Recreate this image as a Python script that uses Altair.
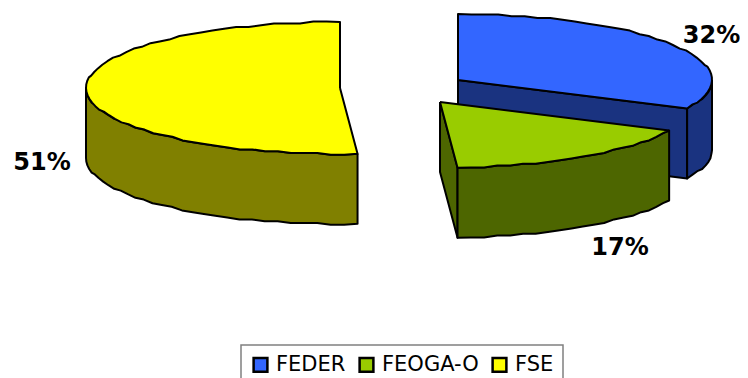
import numpy as np
import pandas as pd
import altair as alt

categories = ["FEDER", "FEOGA-O", "FSE"]
shares = [32.1, 16.8, 51.1]
share_labels = ["32%", "17%", "51%"]
top_colors = ["#3366FF", "#99CC00", "#FFFF00"]
side_colors = ["#1A3380", "#4D6600", "#808000"]
centers = [(458, 80), (440, 102), (340, 88)]
label_pos = [(711.5, 36), (620, 248), (42, 163)]
RX, RY, DEPTH = 254, 66, 70
GRID = 1.8


def pt(c, deg):
    a = np.radians(deg)
    return (c[0] + RX * np.sin(a), c[1] - RY * np.cos(a))


def arc(c, a0, a1):
    n = max(2, int(abs(a1 - a0) / 3.0) + 1)
    out = []
    for i, d in enumerate(np.linspace(a0, a1, n)):
        x, y = pt(c, d)
        if 0 < i < n - 1:
            y = round(y / GRID) * GRID
        out.append((x, y))
    return out


def shift(pts):
    return [(x, y + DEPTH) for x, y in pts]


spans = []
acc = 0.0
for s in shares:
    spans.append((acc, acc + s * 3.6))
    acc += s * 3.6

faces = []
# FSE outer wall
c = centers[2]
a0, a1 = spans[2]
rim = arc(c, a0, 270)
faces.append((rim + shift(rim)[::-1], side_colors[2]))
# FEDER cut face and outer wall
c = centers[0]
a0, a1 = spans[0]
faces.append(([c, pt(c, a1), shift([pt(c, a1)])[0], shift([c])[0]], side_colors[0]))
rim = arc(c, 90, a1)
faces.append((rim + shift(rim)[::-1], side_colors[0]))
# FEOGA cut face and outer wall
c = centers[1]
a0, a1 = spans[1]
faces.append(([c, pt(c, a1), shift([pt(c, a1)])[0], shift([c])[0]], side_colors[1]))
rim = arc(c, a0, a1)
faces.append((rim + shift(rim)[::-1], side_colors[1]))
# top faces
for i in range(3):
    c = centers[i]
    a0, a1 = spans[i]
    faces.append(([c] + arc(c, a0, a1), top_colors[i]))

x_scale = alt.Scale(domain=[8, 740], range=[0, 732], nice=False, zero=False)
y_scale = alt.Scale(domain=[8, 378], range=[0, 370], nice=False, zero=False)
fill_scale = alt.Scale(domain=categories, range=top_colors)

layers = []
for pts, col in faces:
    pts = list(pts) + [pts[0]]
    df = pd.DataFrame({"x": [p[0] for p in pts], "y": [p[1] for p in pts], "o": range(len(pts))})
    layers.append(
        alt.Chart(df).mark_line(fill=col, stroke="black", strokeWidth=2, strokeJoin="round").encode(
            x=alt.X("x:Q", scale=x_scale, axis=None),
            y=alt.Y("y:Q", scale=y_scale, axis=None),
            order=alt.Order("o:Q"),
        )
    )

legend_df = pd.DataFrame({"cat": categories, "x": [c[0] for c in centers], "y": [c[1] for c in centers]})
legend_layer = alt.Chart(legend_df).mark_square(size=1, opacity=0, filled=True).encode(
    x=alt.X("x:Q", scale=x_scale, axis=None),
    y=alt.Y("y:Q", scale=y_scale, axis=None),
    fill=alt.Fill(
        "cat:N",
        scale=fill_scale,
        sort=categories,
        legend=alt.Legend(
            title=None,
            orient="none",
            legendX=233,
            legendY=337,
            direction="horizontal",
            columns=3,
            padding=9,
            strokeColor="#808080",
            fillColor="white",
            symbolType="square",
            symbolSize=190,
            symbolStrokeColor="black",
            symbolStrokeWidth=2.5,
            symbolOpacity=1,
            labelFont="DejaVu Sans",
            labelFontSize=21,
            labelColor="black",
            labelOffset=5,
            columnPadding=8,
            symbolOffset=0,
        ),
    ),
)

label_df = pd.DataFrame({
    "x": [p[0] for p in label_pos],
    "y": [p[1] for p in label_pos],
    "t": share_labels,
})
labels = alt.Chart(label_df).mark_text(
    font="DejaVu Sans", fontWeight="bold", fontSize=24, color="black", baseline="middle", align="center"
).encode(
    x=alt.X("x:Q", scale=x_scale, axis=None),
    y=alt.Y("y:Q", scale=y_scale, axis=None),
    text="t:N",
)

chart = alt.layer(*layers, legend_layer, labels).properties(
    width=732,
    height=370,
    padding=0,
    autosize=alt.AutoSizeParams(type="none"),
    background="white",
).configure_view(stroke=None).configure_legend(strokeWidth=1.5)

chart.save("out.html", embed_options={"renderer": "svg", "actions": False})
